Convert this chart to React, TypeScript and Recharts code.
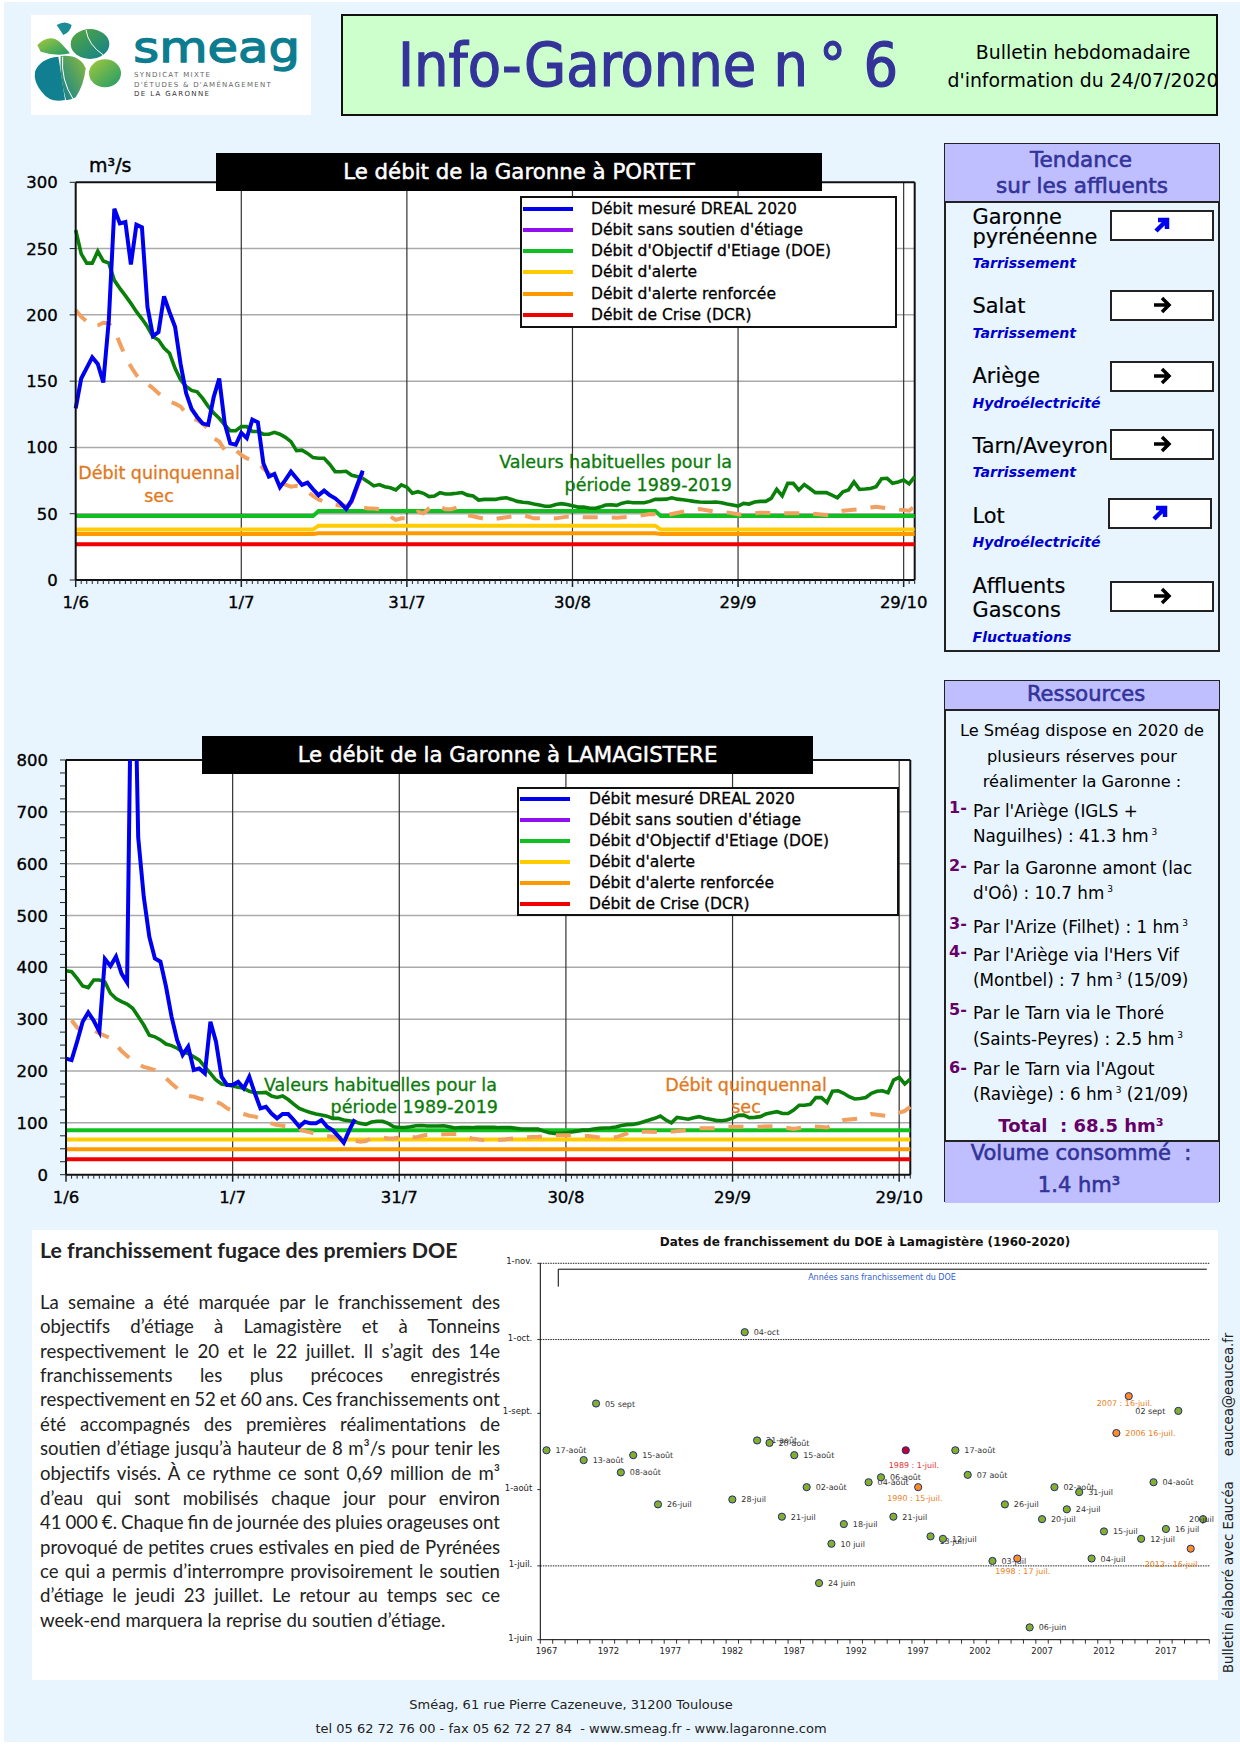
import React from 'react';
import {
  LineChart, Line, XAxis, YAxis, ReferenceLine,
  ScatterChart, Scatter,
} from 'recharts';

// ---- Portet (m3/s, un point par jour depuis le 1/6) ----
const portetMesure = [129.5, 152, 160, 168, 163, 149, 196, 280, 269, 270, 238, 268, 266, 206, 184, 187, 214, 202, 191, 163, 141, 129, 123, 118, 117, 138, 152, 118, 103, 102, 111, 107, 121, 119, 88, 78, 80, 70, 75.5, 81.7, 76.7, 71.7, 73.4, 68.4, 64, 67.4, 64, 61.6, 58, 53.6, 60.3, 71.7, 82.5];
const portetSansSoutienJours = [49, 50, 51, 52];
const portetSansSoutien = [53.6, 59, 70, 81];
const portetHabituel = [264, 246, 239, 239, 248, 240.6, 239, 226, 220, 214.5, 208.7, 202.4, 197, 191, 183.5, 181, 175, 171, 159.7, 151, 146, 143, 142, 137, 131, 126, 122, 117, 112.6, 112.6, 115.7, 115.7, 112, 112, 110, 110, 111.4, 110, 107.6, 104.4, 97.6, 98, 95.5, 92.3, 91.8, 91.8, 87.3, 81.7, 81.7, 82, 79, 78, 76.7, 74, 71, 72, 70.4, 69.6, 68, 71.7, 70, 65.4, 66.6, 65.4, 62.9, 63.4, 65.9, 64.9, 65, 65.4, 66, 64, 63.4, 60.3, 60.8, 60.8, 60.8, 61.6, 62, 60.8, 59.3, 58.6, 58.3, 57.3, 56.6, 55.6, 55.6, 57, 57.6, 57, 56, 55, 55, 54.3, 54, 55, 56.6, 56.8, 56.3, 58, 58.8, 58.3, 58.3, 58.3, 59.3, 60.8, 60.8, 61, 62, 61, 60.5, 60, 59.3, 58.8, 58.6, 58.6, 58.8, 58.3, 57.3, 56.6, 55.8, 57.8, 57.3, 58.8, 59.3, 59.3, 61.6, 68.4, 63.4, 72.9, 72.9, 67.9, 72, 69, 65.9, 65.9, 65.9, 64, 62, 66.6, 67.9, 74, 68.4, 68.6, 69, 70.4, 76.4, 76.7, 73, 74, 75.4, 72.5, 78];
const portetQuinqJours = [0, 1, 2, 3, 4, 5, 6, 7, 8, 9, 10, 11, 12, 13, 14, 15, 16, 17, 18, 19, 20, 21, 22, 23, 24, 25, 26, 27, 28, 29, 30, 31, 32, 33, 34, 35, 36, 37, 38, 39, 40, 41, 42, 43, 44, 45, 46, 47, 48, 49, 50, 51, 52, 53, 54, 55, 56, 57, 58, 59, 60, 61, 62, 63, 64, 65, 66, 67, 68, 69, 71, 75, 78, 81, 83, 87, 89, 92, 95, 98, 101, 104, 107, 110, 113, 116, 118, 121, 124, 127, 130, 133, 136, 139, 142, 145, 148, 151, 152];
const portetQuinq = [203.7, 198.6, 195, 191, 192, 194, 193.6, 188.6, 178.5, 168.5, 161, 154.6, 150, 148, 144.6, 140.8, 137.5, 134.5, 133, 130.8, 125.7, 122, 120.7, 118, 114, 106.9, 104.4, 98, 96, 98, 94.3, 91.8, 90.5, 89, 84, 80.5, 76.7, 74, 72, 70.4, 71, 70, 66.6, 63.4, 60.8, 59, 57.8, 56.6, 56, 56, 56.6, 56, 54.6, 54, 54, 53.3, 51, 47.8, 45.3, 46.5, 46.5, 48.3, 51.5, 50.3, 54, 56.6, 55.3, 53.3, 53.3, 54.6, 49, 45.3, 47.3, 49, 46.5, 46.5, 47.8, 47.3, 47.3, 47, 47.8, 49.8, 49, 51.5, 53.6, 51.5, 51, 49, 50.8, 50.3, 50.3, 50.3, 49, 52.3, 53.3, 55.3, 53.6, 52.3, 55.8];
const portetSeuilJours = [0, 43, 44, 105, 106, 152];
const portetDoe = [48.3, 48.3, 52, 52, 48.3, 48.3];
const portetAlerte = [38, 38, 41, 41, 38, 38];
const portetRenforcee = [34.7, 34.7, 35.2, 35.2, 34.7, 34.7];
const portetCrise = [27, 27, 27, 27, 27, 27];
const portetTicksY = [0, 50, 100, 150, 200, 250, 300];

// ---- Lamagistere ----
const lamaMesure = [224, 221, 256.6, 295, 313, 297, 276, 416, 402.6, 420.6, 388, 371, 1200, 650, 536, 459, 417, 411, 363, 305, 260, 231, 247, 202, 205, 195.5, 295, 256.6, 189, 173, 173, 179, 166.6, 189, 157, 128, 131, 118, 108.7, 117, 117, 105.5, 92.6, 102, 99, 99, 105.5, 92.6, 86, 74.6, 61.7, 86, 107];
const lamaHabituel = [393.6, 391.6, 378.8, 364, 361, 375.6, 375.6, 372, 350, 340, 333.8, 329, 321, 305, 288.7, 269, 266, 260, 252, 249, 244, 237, 234, 227.6, 221, 208, 195.5, 182.6, 175, 173, 171, 168.5, 166.6, 161, 158, 158, 158.8, 151.8, 149, 151.8, 145, 136, 128, 123.5, 120, 117, 115, 113, 108.7, 108.7, 105.5, 104, 102, 99, 97, 101.6, 103, 103, 99, 92.6, 91, 91, 92.6, 94.5, 95, 94, 94, 94, 94.5, 92.6, 90, 91, 90.7, 90.7, 91.3, 91.3, 91.3, 91.3, 90.7, 90.7, 90.7, 89.4, 88, 88, 88, 88, 84, 81, 79.7, 79.7, 81, 82.3, 84, 86, 86, 88, 89.4, 90, 90.7, 92, 95, 96.5, 97, 99, 102, 105.5, 108.7, 113, 105.5, 100, 110.6, 108.7, 107, 110, 112, 108.7, 106.8, 104.8, 104, 105.5, 109, 114.5, 115, 110, 110.6, 112, 117, 119.6, 121.5, 118, 118, 124.8, 134, 134, 135.7, 148.6, 148.6, 139, 161, 162, 157, 150.5, 146, 147, 149, 157, 161, 162, 158, 182.6, 187.8, 175, 184.6];
const lamaQuinqJours = [1, 2, 3, 5, 6, 7, 8, 9, 10, 11, 12, 13, 14, 15, 16, 17, 18, 19, 20, 21, 22, 23, 24, 25, 26, 27, 28, 29, 30, 31, 32, 33, 34, 35, 36, 37, 38, 39, 40, 41, 42, 43, 44, 45, 46, 47, 48, 49, 50, 51, 52, 53, 54, 55, 56, 57, 58, 59, 60, 61, 62, 63, 64, 65, 66, 67, 68, 69, 71, 73, 76, 79, 82, 85, 88, 91, 94, 96, 99, 102, 105, 108, 111, 114, 117, 119, 123, 125, 128, 131, 134, 137, 140, 143, 145, 148, 151, 152];
const lamaQuinq = [298, 284, 276, 279, 272.7, 268, 263, 251, 238.6, 229, 221, 213, 208, 205, 202, 193.6, 186, 176, 166.6, 157, 152, 150.5, 147, 144, 141, 141, 136, 128, 123.5, 120, 117, 113.8, 112, 108.7, 104, 99, 95.8, 94.5, 92.6, 89.4, 87.5, 84, 81.7, 78.5, 76.5, 74.6, 73.3, 72, 70, 68, 65.6, 63.7, 65, 70, 72, 72, 70, 70, 72, 74, 73.3, 72, 74.6, 77, 77, 77, 77.8, 78.5, 78.5, 70, 65, 68, 72, 73, 76, 76, 74.6, 72, 72, 83, 83, 81.7, 85, 89.4, 89.4, 92.6, 92.6, 92.6, 94, 88, 94, 91, 105.5, 108.7, 117, 113, 123, 131];
const lamaSeuilJours = [0, 152];
const lamaDoe = [85.5, 85.5];
const lamaAlerte = [68, 68];
const lamaRenforcee = [49, 49];
const lamaCrise = [30, 30];
const lamaTicksY = [0, 100, 200, 300, 400, 500, 600, 700, 800];

const joursMajeurs = [0, 30, 60, 90, 120, 150];
const joursLabels = ['1/6', '1/7', '31/7', '30/8', '29/9', '29/10'];
const dernierJour = 152;

const legendeLabels = ['Débit mesuré DREAL 2020', 'Débit sans soutien d\'étiage', 'Débit d\'Objectif d\'Etiage (DOE)', 'Débit d\'alerte', 'Débit d\'alerte renforcée', 'Débit de Crise (DCR)'];
const legendeCouleurs = ['#0000F0', '#9010F0', '#10C020', '#FFCC00', '#FF9900', '#F00000'];

// ---- Dates de franchissement du DOE (jours depuis le 1er juin) ----
const annees = [1967, 1970, 1971, 1973, 1974, 1976, 1982, 1983, 1984, 1985, 1986, 1987, 1988, 1989, 1990, 1991, 1993, 1994, 1995, 1998, 1999, 2000, 2001, 2003, 2004, 2006, 2007, 2008, 2009, 2010, 2011, 2012, 2015, 2016, 2017, 2018, 2020];
const joursFranchissement = [77, 73, 96, 68, 75, 55, 57, 125, 81, 80, 50, 75, 62, 23, 39, 47, 64, 66, 50, 42, 41, 77, 67, 32, 55, 5, 49, 62, 53, 60, 33, 44, 41, 64, 45, 93, 49];
const datesLabels = ['17-août', '13-août', '05 sept', '08-août', '15-août', '26-juil', '28-juil', '04-oct', '21-août', '20-août', '21-juil', '15-août', '02-août', '24 juin', '10 juil', '18-juil', '04-août', '06-août', '21-juil', '13-juil', '12-juil', '17-août', '07 août', '03-juil', '26-juil', '06-juin', '20-juil', '02-août', '24-juil', '31-juil', '04-juil', '15-juil', '12-juil', '04-août', '16 juil', '02 sept', '20-juil'];
const anneesOrange = [1997, 2005, 2013, 2014, 2019];
const joursOrange = [62, 33, 84, 99, 37];
const datesOrange = ['1990 : 15-juil.', '1998 : 17 juil.', '2006 16-juil.', '2007 : 16-juil.', '2012 : 16-juil.'];
const anneesRouge = [1996];
const joursRouge = [77];
const datesRouge = ['1989 : 1-juil.'];
const moisJours = [0, 30, 61, 92, 122, 153];
const moisLabels = ['1-juin', '1-juil.', '1-août', '1-sept.', '1-oct.', '1-nov.'];
const moisPointilles = [30, 122, 153];
const decalagesLabels: Record<number, [number, number]> = {
  2018: [-43, 0], 2020: [-14, 0], 1996: [-17, 15], 1997: [-31, 11], 2005: [-22, 12],
  2013: [9, 0], 2014: [-32, 7], 2019: [-46, 15], 1998: [9, 5],
};

// ---- Panneaux ----
const affluents = [
  { nom: ['Garonne', 'pyrénéenne'], etat: 'Tarrissement', hausse: true },
  { nom: ['Salat'], etat: 'Tarrissement', hausse: false },
  { nom: ['Ariège'], etat: 'Hydroélectricité', hausse: false },
  { nom: ['Tarn/Aveyron'], etat: 'Tarrissement', hausse: false },
  { nom: ['Lot'], etat: 'Hydroélectricité', hausse: true },
  { nom: ['Affluents', 'Gascons'], etat: 'Fluctuations', hausse: false },
];

const paragraphe = [
  'La semaine a été marquée par le franchissement des',
  'objectifs d’étiage à Lamagistère et à Tonneins',
  'respectivement le 20 et le 22 juillet. Il s’agit des 14e',
  'franchissements les plus précoces enregistrés',
  'respectivement en 52 et 60 ans. Ces franchissements ont',
  'été accompagnés des premières réalimentations de',
  'soutien d’étiage jusqu’à hauteur de 8 m³/s pour tenir les',
  'objectifs visés. À ce rythme ce sont 0,69 million de m³',
  'd’eau qui sont mobilisés chaque jour pour environ',
  '41 000 €. Chaque fin de journée des pluies orageuses ont',
  'provoqué de petites crues estivales en pied de Pyrénées',
  'ce qui a permis d’interrompre provisoirement le soutien',
  'd’étiage le jeudi 23 juillet. Le retour au temps sec ce',
  'week-end marquera la reprise du soutien d’étiage.',
];

const DEJAVU = "'DejaVu Sans', sans-serif";

const T: React.FC<any> = ({ x, y, size = 16, color = '#000', align = 'left', weight = 400, italic, stroke, font = DEJAVU, children }) => (
  <div style={{
    position: 'absolute', left: x, top: y, whiteSpace: 'pre', fontFamily: font, fontSize: size, color,
    fontWeight: weight, fontStyle: italic ? 'italic' : 'normal', lineHeight: 1,
    WebkitTextStroke: stroke ? `${stroke}px ${color}` : undefined,
    transform: `translate(${align === 'center' ? '-50%' : align === 'right' ? '-100%' : '0'}, -50%)`,
  }}>{children}</div>
);

// points par jour pour une serie eventuellement clairsemee
const versJour = (jours: number[], valeurs: number[]) => {
  const m: Record<number, number> = {};
  jours.forEach((j, i) => { m[j] = valeurs[i]; });
  return m;
};

const GraphDebit: React.FC<any> = ({ left, top, plotLeft, plotRight, plotTop, plotBottom, yMax, yTicks, yStep, rows }) => {
  const w = plotRight - left + 20;
  const h = plotBottom - top + 40;
  const joursTicks = Array.from({ length: dernierJour + 1 }, (_, i) => i);
  const yTousTicks = Array.from({ length: yMax / yStep + 1 }, (_, i) => i * yStep);

  const xTick = (p: any) => {
    const i = joursMajeurs.indexOf(p.payload.value);
    return (
      <g>
        <line x1={p.x} x2={p.x} y1={p.y} y2={p.y + (i >= 0 ? 7 : 4)} stroke="#222" strokeWidth={i >= 0 ? 1.5 : 1} />
        {i >= 0 && (
          <text x={p.x} y={p.y + 28} textAnchor="middle" fontFamily={DEJAVU} fontSize={16.5} fill="#000" stroke="#000" strokeWidth={0.35}>{joursLabels[i]}</text>
        )}
      </g>
    );
  };
  const yTick = (p: any) => (
    <g>
      <line x1={p.x - 6} x2={p.x} y1={p.y} y2={p.y} stroke="#222" strokeWidth={1} />
      {yTicks.includes(p.payload.value) && (
        <text x={p.x - 18} y={p.y + 6} textAnchor="end" fontFamily={DEJAVU} fontSize={16.5} fill="#000" stroke="#000" strokeWidth={0.35}>{p.payload.value}</text>
      )}
    </g>
  );

  return (
    <div style={{ position: 'absolute', left, top }}>
      <LineChart
        width={w}
        height={h}
        data={rows}
        margin={{ top: plotTop - top, right: w - (plotRight - left), bottom: 0, left: 0 }}
      >
        <rect x={plotLeft - left} y={plotTop - top} width={plotRight - plotLeft} height={plotBottom - plotTop} fill="#fff" />
        <XAxis dataKey="jour" type="number" domain={[0, dernierJour]} ticks={joursTicks} interval={0} tick={xTick} tickLine={false} tickSize={0} tickMargin={0} axisLine={{ stroke: '#111', strokeWidth: 2 }} height={40} />
        <YAxis type="number" domain={[0, yMax]} ticks={yTousTicks} interval={0} allowDataOverflow tick={yTick} tickLine={false} tickSize={0} tickMargin={0} axisLine={{ stroke: '#111', strokeWidth: 2 }} width={plotLeft - left} />
        {yTicks.filter((v: number) => v > 0 && v < yMax).map((v: number) => (
          <ReferenceLine key={v} y={v} stroke="#aaa" strokeWidth={1.5} />
        ))}
        {joursMajeurs.filter(j => j > 0).map(j => (
          <ReferenceLine key={j} x={j} stroke="#333" strokeWidth={1.2} />
        ))}
        <ReferenceLine y={yMax} stroke="#111" strokeWidth={2} />
        <ReferenceLine x={dernierJour} stroke="#111" strokeWidth={2} />
        <Line dataKey="crise" stroke="#F00000" strokeWidth={4} dot={false} connectNulls isAnimationActive={false} />
        <Line dataKey="renforcee" stroke="#FF9900" strokeWidth={4} dot={false} connectNulls isAnimationActive={false} />
        <Line dataKey="alerte" stroke="#FFCC00" strokeWidth={4} dot={false} connectNulls isAnimationActive={false} />
        <Line dataKey="doe" stroke="#10C020" strokeWidth={4} dot={false} connectNulls isAnimationActive={false} />
        <Line dataKey="habituel" stroke="#0A800A" strokeWidth={3.6} dot={false} isAnimationActive={false} />
        <Line dataKey="quinq" stroke="#F2A060" strokeWidth={4} strokeDasharray="15 14" dot={false} connectNulls isAnimationActive={false} />
        <Line dataKey="sansSoutien" stroke="#C020E0" strokeWidth={3.6} dot={false} connectNulls isAnimationActive={false} />
        <Line dataKey="mesure" stroke="#0000F0" strokeWidth={4} dot={false} isAnimationActive={false} />
      </LineChart>
    </div>
  );
};

const construireLignes = (s: any) => {
  const quinq = versJour(s.quinqJours, s.quinq);
  const soutien = versJour(s.soutienJours || [], s.soutien || []);
  const doe = versJour(s.seuilJours, s.doe);
  const alerte = versJour(s.seuilJours, s.alerte);
  const renforcee = versJour(s.seuilJours, s.renforcee);
  const crise = versJour(s.seuilJours, s.crise);
  return s.habituel.map((v: number, j: number) => ({
    jour: j, habituel: v, mesure: s.mesure[j], sansSoutien: soutien[j], quinq: quinq[j],
    doe: doe[j], alerte: alerte[j], renforcee: renforcee[j], crise: crise[j],
  }));
};

const lignesPortet = construireLignes({ mesure: portetMesure, soutienJours: portetSansSoutienJours, soutien: portetSansSoutien, habituel: portetHabituel, quinqJours: portetQuinqJours, quinq: portetQuinq, seuilJours: portetSeuilJours, doe: portetDoe, alerte: portetAlerte, renforcee: portetRenforcee, crise: portetCrise });
const lignesLama = construireLignes({ mesure: lamaMesure, habituel: lamaHabituel, quinqJours: lamaQuinqJours, quinq: lamaQuinq, seuilJours: lamaSeuilJours, doe: lamaDoe, alerte: lamaAlerte, renforcee: lamaRenforcee, crise: lamaCrise });

const Legende: React.FC<any> = ({ x, y, w, h, rangees, texteX }) => (
  <div style={{ position: 'absolute', left: x, top: y, width: w, height: h, background: '#fff', border: '2px solid #111', boxSizing: 'border-box' }}>
    {legendeLabels.map((l, i) => (
      <React.Fragment key={l}>
        <div style={{ position: 'absolute', left: 1, top: rangees[i] - y - 4, width: 50, height: 4, background: legendeCouleurs[i] }} />
        <T x={texteX - x - 2} y={rangees[i] - y - 1} size={15.5} stroke={0.3}>{l}</T>
      </React.Fragment>
    ))}
  </div>
);

const Titre: React.FC<any> = ({ x, y, w, h, children }) => (
  <div style={{
    position: 'absolute', left: x, top: y, width: w, height: h, background: '#000', color: '#fff', fontFamily: DEJAVU, fontSize: 21.3,
    textAlign: 'center', lineHeight: `${h}px`, WebkitTextStroke: '0.5px #fff', whiteSpace: 'pre',
  }}>{children}</div>
);

const Fleche: React.FC<any> = ({ cx, cy, hausse }) => (
  <svg style={{ position: 'absolute', left: cx - 12, top: cy - 12 }} width={24} height={24}>
    {hausse ? (
      <path d="M6 18 L15 9 M8 7 L17 7 L17 16" stroke="#0000F0" strokeWidth={4.5} fill="none" />
    ) : (
      <path d="M4 12 L19 12 M12 5 L19 12 L12 19" stroke="#000" strokeWidth={3.5} fill="none" />
    )}
  </svg>
);

const Logo: React.FC = () => (
  <svg style={{ position: 'absolute', left: 31, top: 15, background: '#fff' }} width={280} height={100} viewBox="33 15 840 300">
    <defs>
      <linearGradient id="gTeal" x1="0" y1="0" x2="1" y2="1"><stop offset="0" stopColor="#0E7F92" /><stop offset="1" stopColor="#128090" /></linearGradient>
      <linearGradient id="gMix" x1="0" y1="1" x2="1" y2="0"><stop offset="0" stopColor="#0E7F92" /><stop offset="1" stopColor="#8DBB3A" /></linearGradient>
      <linearGradient id="gVert" x1="0" y1="0" x2="1" y2="1"><stop offset="0" stopColor="#A3C93A" /><stop offset="1" stopColor="#1E9A6A" /></linearGradient>
      <linearGradient id="gHaut" x1="0" y1="0" x2="1" y2="1"><stop offset="0" stopColor="#58A83A" /><stop offset="1" stopColor="#0E7F92" /></linearGradient>
    </defs>
    <path d="M45 185 Q60 145 115 140 Q125 200 135 270 Q90 280 65 245 Q40 215 45 185 Z" fill="url(#gTeal)" />
    <path d="M122 138 Q180 132 197 175 Q192 225 167 262 Q152 272 138 270 Q118 200 122 138 Z" fill="url(#gMix)" />
    <ellipse cx={255} cy={190} rx={48} ry={42} fill="url(#gVert)" />
    <ellipse cx={210} cy={102} rx={58} ry={45} fill="url(#gHaut)" />
    <path d="M52 105 Q88 68 122 98 L150 130 Q110 140 62 125 Z" fill="url(#gVert)" />
    <path d="M110 45 Q135 30 155 45 Q150 68 130 75 Z" fill="#1E8C96" />
    <path d="M198 60 Q205 105 250 135 M128 140 Q122 210 160 268" stroke="#fff" strokeWidth={3} fill="none" />
    <text x={340} y={157} fontFamily={DEJAVU} fontSize={128} fill="#0C7D90" stroke="#0C7D90" strokeWidth={4} textLength={500} lengthAdjust="spacingAndGlyphs">smeag</text>
    <text x={342} y={202} fontFamily={DEJAVU} fontSize={21} fill="#666" textLength={228} lengthAdjust="spacing">SYNDICAT MIXTE</text>
    <text x={342} y={231} fontFamily={DEJAVU} fontSize={21} fill="#666" textLength={410} lengthAdjust="spacing">D'ÉTUDES &amp; D'AMÉNAGEMENT</text>
    <text x={342} y={258} fontFamily={DEJAVU} fontSize={21} fill="#333" textLength={225} lengthAdjust="spacing">DE LA GARONNE</text>
  </svg>
);

const pointsDe = (ans: number[], jours: number[], labels: string[]) => ans.map((a, i) => ({ annee: a, jour: jours[i], label: labels[i] }));

const Pastille = (fill: string, texte: string) => (p: any) => {
  const d = decalagesLabels[p.payload.annee] || [9, 0];
  return (
    <g>
      <circle cx={p.cx} cy={p.cy} r={3.6} fill={fill} stroke="#1E2E78" strokeWidth={1} />
      <text x={p.cx + d[0]} y={p.cy + d[1] + 3} fontFamily={DEJAVU} fontSize={8} fill={texte}>{p.payload.label}</text>
    </g>
  );
};

const GraphDates: React.FC = () => {
  const left = 490;
  const top = 1250;
  const plotLeft = 540.3;
  const plotRight = 1209.3;
  const plotTop = 1263.3;
  const plotBottom = 1639.7;
  const w = plotRight - left + 10;
  const h = plotBottom - top + 26;
  const bords = Array.from({ length: 55 }, (_, i) => 1966.5 + i);
  const bande = (plotRight - plotLeft) / 54;
  const xTick = (p: any) => {
    const an = p.payload.value + 0.5;
    return (
      <g>
        <line x1={p.x} x2={p.x} y1={p.y} y2={p.y + 4} stroke="#000" strokeWidth={0.8} />
        {(an - 1967) % 5 === 0 && an < 2020 && (
          <text x={p.x + bande / 2} y={p.y + 14} textAnchor="middle" fontFamily={DEJAVU} fontSize={8.5} fill="#222">{an}</text>
        )}
      </g>
    );
  };
  const yTick = (p: any) => {
    const i = moisJours.indexOf(p.payload.value);
    return (
      <g>
        <line x1={p.x - 3} x2={p.x} y1={p.y} y2={p.y} stroke="#000" strokeWidth={0.8} />
        <text x={p.x - 8} y={p.y + 1} textAnchor="end" fontFamily={DEJAVU} fontSize={8.5} fill="#222">{moisLabels[i]}</text>
      </g>
    );
  };
  return (
    <div style={{ position: 'absolute', left, top }}>
      <ScatterChart width={w} height={h} margin={{ top: plotTop - top, right: w - (plotRight - left), bottom: 0, left: 0 }}>
        <XAxis dataKey="annee" type="number" domain={[1966.5, 2020.5]} ticks={bords} interval={0} tick={xTick} tickLine={false} tickSize={0} tickMargin={0} axisLine={{ stroke: '#000', strokeWidth: 1 }} height={26} />
        <YAxis dataKey="jour" type="number" domain={[0, 153]} ticks={moisJours} interval={0} tick={yTick} tickLine={false} tickSize={0} tickMargin={0} axisLine={{ stroke: '#000', strokeWidth: 1 }} width={plotLeft - left} />
        {moisPointilles.map(m => (
          <ReferenceLine key={m} y={m} stroke="#222" strokeWidth={1} strokeDasharray="1.5 1" />
        ))}
        <ReferenceLine stroke="#000" strokeWidth={1} segment={[{ x: 1967.95, y: 143.5 }, { x: 1967.95, y: 150.6 }]} />
        <ReferenceLine stroke="#000" strokeWidth={1} segment={[{ x: 1967.95, y: 150.6 }, { x: 2020.3, y: 150.6 }]} />
        <Scatter data={pointsDe(annees, joursFranchissement, datesLabels)} shape={Pastille('#86AE2A', '#333')} isAnimationActive={false} />
        <Scatter data={pointsDe(anneesOrange, joursOrange, datesOrange)} shape={Pastille('#FF8C20', '#E88020')} isAnimationActive={false} />
        <Scatter data={pointsDe(anneesRouge, joursRouge, datesRouge)} shape={Pastille('#C00030', '#E03030')} isAnimationActive={false} />
      </ScatterChart>
    </div>
  );
};

const sup3 = <sup style={{ fontSize: 9 }}> 3</sup>;

const App: React.FC = () => (
  <div style={{ position: 'absolute', left: 0, top: 0, width: 1240, height: 1754, background: '#fff', overflow: 'hidden' }}>
    <div style={{ position: 'absolute', left: 4, top: 2, width: 1236, height: 1740, background: '#E8F5FF' }} />

    <Logo />
    <div style={{ position: 'absolute', left: 341, top: 14, width: 877, height: 102, boxSizing: 'border-box', background: '#CCFFCC', border: '2px solid #111' }} />
    <T x={398} y={65} size={60.5} color="#333399" stroke={1.2} font="'DejaVu Sans Condensed', 'DejaVu Sans', sans-serif">{'Info-Garonne n\u2009° 6'}</T>
    <T x={1083} y={52} size={18.9} align="center">Bulletin hebdomadaire</T>
    <T x={1083} y={80} size={18.9} align="center">d'information du 24/07/2020</T>

    {/* Portet */}
    <GraphDebit left={0} top={150} plotLeft={75.7} plotRight={914.7} plotTop={182.3} plotBottom={580} yMax={300} yTicks={portetTicksY} yStep={50} rows={lignesPortet} />
    <T x={89} y={165} size={19} stroke={0.4}>m³/s</T>
    <Titre x={215.7} y={153.3} w={606.6} h={37.4}>Le débit de la Garonne à PORTET</Titre>
    <Legende x={520} y={196} w={377} h={131.5} rangees={[209, 230, 251, 272.3, 294, 315]} texteX={591} />
    <T x={159} y={474} size={17.5} color="#E07820" align="center" stroke={0.3}>Débit quinquennal</T>
    <T x={159} y={496.7} size={17.5} color="#E07820" align="center" stroke={0.3}>sec</T>
    <T x={732} y={463} size={17.5} color="#0A7A0A" align="right" stroke={0.3}>Valeurs habituelles pour la</T>
    <T x={732} y={485.7} size={17.5} color="#0A7A0A" align="right" stroke={0.3}>période 1989-2019</T>

    {/* Lamagistere */}
    <GraphDebit left={0} top={740} plotLeft={66} plotRight={910.3} plotTop={760} plotBottom={1174.7} yMax={800} yTicks={lamaTicksY} yStep={25} rows={lignesLama} />
    <Titre x={202} y={736} w={611} h={38}>Le débit de la Garonne à LAMAGISTERE</Titre>
    <Legende x={516.7} y={786.7} w={382.3} h={129.3} rangees={[799, 820, 841, 862.3, 883.3, 904]} texteX={589} />
    <T x={264} y={1085.7} size={17.5} color="#0A7A0A" stroke={0.3}>Valeurs habituelles pour la</T>
    <T x={498} y={1107.7} size={17.5} color="#0A7A0A" align="right" stroke={0.3}>période 1989-2019</T>
    <T x={746} y={1085.7} size={17.5} color="#E07820" align="center" stroke={0.3}>Débit quinquennal</T>
    <T x={746} y={1107.7} size={17.5} color="#E07820" align="center" stroke={0.3}>sec</T>

    {/* Tendance */}
    <div style={{ position: 'absolute', left: 944, top: 143, width: 276, height: 509, boxSizing: 'border-box', border: '2px solid #222' }} />
    <div style={{ position: 'absolute', left: 945, top: 144, width: 274, height: 57, background: '#BFBFFF', borderBottom: '2px solid #222' }} />
    <T x={1081} y={159.5} size={21.5} color="#333399" align="center" stroke={0.6}>Tendance</T>
    <T x={1082} y={186} size={21.5} color="#333399" align="center" stroke={0.6}>sur les affluents</T>
    {affluents.map((a, i) => {
      const nomY = [[217, 237], [306.3], [376.2], [445.8], [515.7], [585.6, 610.4]][i];
      const etatY = [263.3, 333.2, 403, 472, 541.5, 636.9][i];
      const boite = [[1110, 210], [1110, 289.5], [1110, 361], [1110, 429], [1108, 497.5], [1110, 581]][i];
      return (
        <React.Fragment key={a.etat + i}>
          {a.nom.map((n, k) => <T key={n} x={972.5} y={nomY[k]} size={20.9} stroke={0.2}>{n}</T>)}
          <T x={972.5} y={etatY} size={14.1} color="#0000D0" weight={700} italic>{a.etat}</T>
          <div style={{ position: 'absolute', left: boite[0], top: boite[1], width: 104, height: 31, boxSizing: 'border-box', background: '#fff', border: '2px solid #222' }} />
          <Fleche cx={boite[0] + 52} cy={boite[1] + 15} hausse={a.hausse} />
        </React.Fragment>
      );
    })}

    {/* Ressources */}
    <div style={{ position: 'absolute', left: 944, top: 680, width: 276, height: 522, boxSizing: 'border-box', border: '2px solid #222' }} />
    <div style={{ position: 'absolute', left: 945, top: 681, width: 274, height: 28, background: '#BFBFFF', borderBottom: '2px solid #222' }} />
    <T x={1086} y={694} size={21} color="#333399" align="center" stroke={0.6}>Ressources</T>
    <T x={1082} y={731} size={16.2} align="center">Le Sméag dispose en 2020 de</T>
    <T x={1082} y={757} size={16.2} align="center">plusieurs réserves pour</T>
    <T x={1082} y={782} size={16.2} align="center">réalimenter la Garonne :</T>
    {[807.7, 866, 924, 952, 1010, 1067.7].map((y, i) => (
      <T key={y} x={949} y={y} size={16} color="#660066" weight={700}>{`${i + 1}-`}</T>
    ))}
    <T x={973} y={810.5} size={16.8}>Par l'Ariège (IGLS +</T>
    <T x={973} y={836} size={16.8}>Naguilhes) : 41.3 hm{sup3}</T>
    <T x={973} y={867.7} size={16.8}>Par la Garonne amont (lac</T>
    <T x={973} y={892.8} size={16.8}>d'Oô) : 10.7 hm{sup3}</T>
    <T x={973} y={926.5} size={16.8}>Par l'Arize (Filhet) : 1 hm{sup3}</T>
    <T x={973} y={954.8} size={16.8}>Par l'Ariège via l'Hers Vif</T>
    <T x={973} y={980} size={16.8}>(Montbel) : 7 hm{sup3} (15/09)</T>
    <T x={973} y={1012.6} size={16.8}>Par le Tarn via le Thoré</T>
    <T x={973} y={1038.5} size={16.8}>(Saints-Peyres) : 2.5 hm{sup3}</T>
    <T x={973} y={1068.8} size={16.8}>Par le Tarn via l'Agout</T>
    <T x={973} y={1094} size={16.8}>(Raviège) : 6 hm{sup3} (21/09)</T>
    <T x={1081} y={1126.3} size={18} color="#660066" weight={700} align="center">Total  : 68.5 hm³</T>
    <div style={{ position: 'absolute', left: 945, top: 1140, width: 274, height: 61, background: '#BFBFFF', borderTop: '2px solid #222' }} />
    <T x={1081} y={1153} size={21} color="#333399" align="center" stroke={0.6}>Volume consommé  :</T>
    <T x={1079} y={1185} size={21} color="#333399" align="center" stroke={0.6}>1.4 hm³</T>

    {/* Article + dates */}
    <div style={{ position: 'absolute', left: 32, top: 1230, width: 1186, height: 450, background: '#fff' }} />
    <T x={40} y={1251} size={21.3} weight={700} font="Lato, sans-serif" color="#222">Le franchissement fugace des premiers DOE</T>
    {paragraphe.map((l, i) => (
      <div key={i} style={{
        position: 'absolute', left: 40, top: 1302 + i * 24.35 - 12 + (i > 6 ? 1 : 0), width: 460, fontFamily: 'Lato, sans-serif', fontSize: 18.6, lineHeight: '24px', color: '#222',
        wordSpacing: i < paragraphe.length - 1 ? -2 : 0, textAlign: 'justify', textAlignLast: i < paragraphe.length - 1 ? 'justify' : 'left',
      }}>{l}</div>
    ))}
    <GraphDates />
    <T x={865} y={1242} size={12} weight={700} align="center" color="#111">Dates de franchissement du DOE à Lamagistère (1960-2020)</T>
    <T x={882} y={1277.7} size={8} color="#3060D0" align="center">Années sans franchissement du DOE</T>

    <div style={{ position: 'absolute', left: 1221, top: 1673, transform: 'rotate(-90deg)', transformOrigin: 'left top', fontFamily: DEJAVU, fontSize: 13.2, lineHeight: '16px', whiteSpace: 'pre', color: '#222' }}>
      Bulletin élaboré avec Eaucéa      eaucea@eaucea.fr
    </div>

    <T x={571} y={1704} size={13} align="center" color="#222">Sméag, 61 rue Pierre Cazeneuve, 31200 Toulouse</T>
    <T x={571} y={1728} size={13} align="center" color="#222">tel 05 62 72 76 00 - fax 05 62 72 27 84  - www.smeag.fr - www.lagaronne.com</T>
  </div>
);

export default App;
